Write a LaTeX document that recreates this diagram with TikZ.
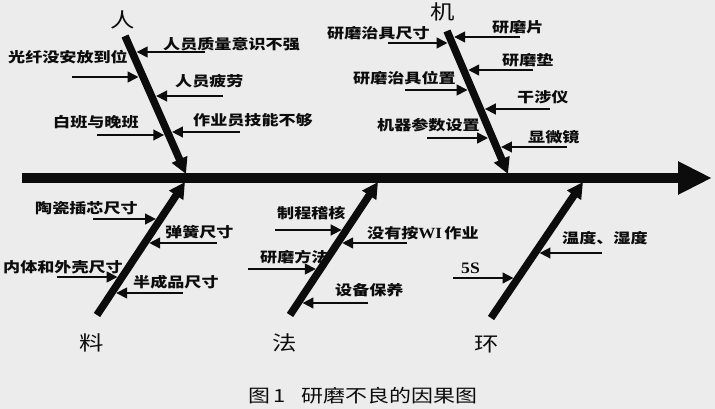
\documentclass[tikz,border=0pt]{standalone}
\usepackage{fontspec}
\usetikzlibrary{arrows.meta,calc}
\newfontfamily\cjk{Noto Sans CJK SC}[FakeStretch=1.22]
\newfontfamily\cjkcap{Noto Sans CJK SC}[FakeStretch=1.22]
\newfontfamily\latb{Liberation Serif}[FakeStretch=1.1]
\definecolor{bg}{RGB}{236,236,236}
\definecolor{ink}{RGB}{12,12,12}
\newcommand{\causearr}[5]{%
  \coordinate (#2) at (#3,#4);
  \path let \p1=(#1T), \p2=(#1B), \n1={((-#4pt)-(\y1))/((\y2)-(\y1))} in
    coordinate (#2e) at ({\x1+\n1*(\x2-\x1)+(#5)*4.5pt},{-#4pt});
  \draw[cause] (#2) -- (#2e);}
\begin{document}
\begin{tikzpicture}[x=1pt,y=-1pt,
  spine/.style={draw=ink,line width=10pt,-{Triangle[length=34pt,width=31pt]}},
  bone/.style={draw=ink,line width=7.5pt,-{Triangle[length=16pt,width=16pt]}},
  cause/.style={draw=ink,line width=2.6pt,-{Triangle[length=11pt,width=10.5pt]}},
  lbl/.style={inner sep=0pt,anchor=west,text=ink,font=\cjk\bfseries\fontsize{14}{16}\selectfont},
  cat/.style={inner sep=0pt,text=ink,font=\cjk\fontsize{20}{22}\selectfont},
  capt/.style={inner sep=0pt,anchor=west,text=ink,font=\cjkcap\fontsize{18}{20}\selectfont}]
\useasboundingbox (0,0) rectangle (715,409);
\fill[bg] (0,0) rectangle (715,409);
% spine
\coordinate (sL) at (22,178);
\coordinate (sR) at (712,178);
\draw[spine] (sL) -- (sR);
% bones
\coordinate (hT) at (125,36);  \coordinate (hB) at (186,174);
\coordinate (jT) at (447,31);  \coordinate (jB) at (508,174);
\coordinate (lB) at (97,315);  \coordinate (lT) at (185,182);
\coordinate (fB) at (290,315); \coordinate (fT) at (378,182);
\coordinate (eB) at (491,318); \coordinate (eT) at (583,182);
\draw[bone] (hT) -- (hB);
\draw[bone] (jT) -- (jB);
\draw[bone] (lB) -- (lT);
\draw[bone] (fB) -- (fT);
\draw[bone] (eB) -- (eT);
% category labels
\node[cat] (ren) at (123,20) {人};
\node[cat] (ji)  at (443,12) {机};
\node[cat] (liao) at (92,343) {料};
\node[cat] (fa)  at (285,343) {法};
\node[cat] (huan) at (487,345) {环};
% people
\node[lbl] (h1) at (163,44) {人员质量意识不强}; \causearr{h}{a1}{205}{52}{1}
\node[lbl] (h2) at (8,57) {光纤没安放到位};    \causearr{h}{a2}{72}{77}{-1}
\node[lbl] (h3) at (175,81) {人员疲劳};        \causearr{h}{a3}{223}{96}{1}
\node[lbl] (h4) at (53,122) {白班与晚班};      \causearr{h}{a4}{97}{135}{-1}
\node[lbl] (h5) at (193,120) {作业员技能不够}; \causearr{h}{a5}{240}{132}{1}
% machine
\node[lbl] (j1) at (327,33) {研磨治具尺寸};  \causearr{j}{b1}{388}{43}{-1}
\node[lbl] (j2) at (492,27) {研磨片};        \causearr{j}{b2}{520}{37}{1}
\node[lbl] (j3) at (502,60) {研磨垫};        \causearr{j}{b3}{533}{70}{1}
\node[lbl] (j4) at (353,78) {研磨治具位置};  \causearr{j}{b4}{405}{90}{-1}
\node[lbl] (j5) at (517,97) {干涉仪};        \causearr{j}{b5}{550}{109}{1}
\node[lbl] (j6) at (377,125) {机器参数设置}; \causearr{j}{b6}{427}{138}{-1}
\node[lbl] (j7) at (528,137) {显微镜};       \causearr{j}{b7}{567}{147}{1}
% material
\node[lbl] (l1) at (35,208) {陶瓷插芯尺寸};  \causearr{l}{c1}{93}{219}{-1}
\node[lbl] (l2) at (165,232) {弹簧尺寸};     \causearr{l}{c2}{217}{243}{1}
\node[lbl] (l3) at (3,267) {内体和外壳尺寸}; \causearr{l}{c3}{57}{277}{-1}
\node[lbl] (l4) at (133,282) {半成品尺寸};   \causearr{l}{c4}{183}{293}{1}
% method
\node[lbl] (f1) at (277,213) {制程稽核};     \causearr{f}{d1}{275}{230}{-1}
\node[lbl] (f2) at (367,233) {没有按{\latb\fontsize{15.5}{16}\selectfont WI}\,作业}; \causearr{f}{d2}{407}{243}{1}
\node[lbl] (f3) at (260,257) {研磨方法};     \causearr{f}{d3}{248}{269}{-1}
\node[lbl] (f4) at (335,290) {设备保养};     \causearr{f}{d4}{368}{303}{1}
% environment
\node[lbl] (e1) at (562,238) {温度、湿度};   \causearr{e}{g1}{602}{253}{1}
\node[lbl] (e2) at (461,268) {\latb\fontsize{16}{17}\selectfont 5S}; \causearr{e}{g2}{453}{278}{-1}
% caption
\node[capt] (cap) at (248,396) {图\,1\hspace{16pt}研磨不良的因果图};
\end{tikzpicture}
\end{document}
